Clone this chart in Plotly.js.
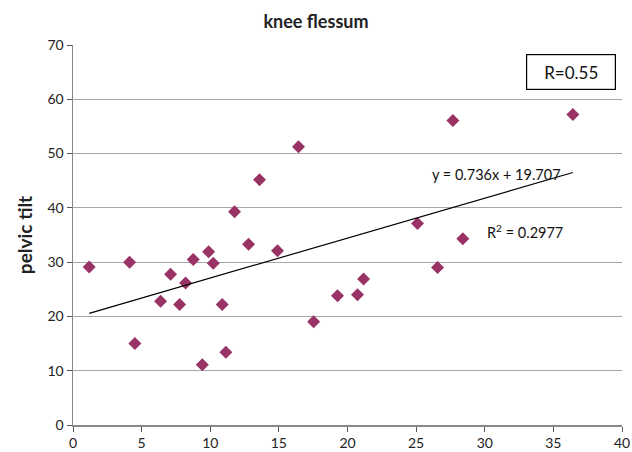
<!DOCTYPE html>
<html><head><meta charset="utf-8">
<script src="https://cdn.plot.ly/plotly-3.0.1.min.js"></script>
<style>html,body{margin:0;padding:0;background:#fff;}#chart{width:632px;height:452px;}</style>
</head><body><div id="chart"></div>
<script>
const kneeFlessum = [1.18, 4.12, 4.51, 6.38, 7.11, 7.77, 8.2, 8.76, 9.42, 9.88, 10.22, 10.87, 11.14, 11.77, 12.79, 13.59, 14.9, 16.43, 17.53, 19.27, 20.73, 21.17, 25.1, 26.56, 27.68, 28.4, 36.42];
const pelvicTilt  = [29.1, 30.0, 15.0, 22.8, 27.75, 22.2, 26.15, 30.5, 11.1, 31.9, 29.8, 22.2, 13.4, 39.3, 33.3, 45.2, 32.1, 51.25, 19.0, 23.8, 24.0, 26.9, 37.1, 29.0, 56.1, 34.3, 57.2];
const slope = 0.736;
const intercept = 19.707;
const xTicks = [0, 5, 10, 15, 20, 25, 30, 35, 40];
const yTicks = [0, 10, 20, 30, 40, 50, 60, 70];

const xMin = Math.min(...kneeFlessum), xMax = Math.max(...kneeFlessum);
const trendX = [xMin, xMax];
const trendY = trendX.map(v => slope * v + intercept);

const font = "Lato, 'Open Sans', sans-serif";
const data = [
  {x: kneeFlessum, y: pelvicTilt, type: 'scatter', mode: 'markers',
   marker: {symbol: 'diamond', size: 10, color: '#993366'}, hoverinfo: 'x+y'},
  {x: trendX, y: trendY, type: 'scatter', mode: 'lines',
   line: {color: '#000000', width: 1.2}, hoverinfo: 'skip'}
];
const layout = {
  width: 632, height: 452,
  margin: {l: 73, r: 10, t: 45, b: 27},
  paper_bgcolor: '#fff', plot_bgcolor: '#fff',
  showlegend: false,
  font: {family: font, size: 14, color: '#222'},
  title: {text: '<b>knee flessum</b>', font: {family: font, size: 18, color: '#222'}, x: 0.5, xanchor: 'center', y: 0.952, yanchor: 'middle'},
  xaxis: {range: [0, 40], tickvals: xTicks, ticks: 'outside', ticklen: 5, tickcolor: '#555',
          showline: true, linecolor: '#888', linewidth: 1.5, showgrid: false, zeroline: false,
          tickfont: {size: 14, color: '#222'}},
  yaxis: {range: [0, 70], tickvals: yTicks, ticks: 'outside', ticklen: 5, tickcolor: '#555',
          showline: true, linecolor: '#888', linewidth: 1.5, showgrid: true, gridcolor: '#a6a6a6', gridwidth: 1,
          zeroline: false, tickfont: {size: 14, color: '#222'},
          title: {text: '<b>pelvic tilt</b>', font: {family: font, size: 19, color: '#222'}, standoff: 10}},
  annotations: [
    {text: 'R=0.55', xref: 'paper', yref: 'paper', x: 0.907, y: 0.929, xanchor: 'center', yanchor: 'middle',
     showarrow: false, font: {family: font, size: 17, color: '#111'}, bordercolor: '#000', borderwidth: 1.2,
     width: 86, height: 32},
    {text: 'y = 0.736x + 19.707', xref: 'paper', yref: 'paper', x: 0.772, y: 0.658, xanchor: 'center', yanchor: 'middle',
     showarrow: false, font: {family: font, size: 14.5, color: '#111'}},
    {text: 'R<sup>2</sup> = 0.2977', xref: 'paper', yref: 'paper', x: 0.824, y: 0.508, xanchor: 'center', yanchor: 'middle',
     showarrow: false, font: {family: font, size: 14.5, color: '#111'}}
  ]
};
Plotly.newPlot('chart', data, layout, {displayModeBar: false, staticPlot: true});
</script></body></html>
